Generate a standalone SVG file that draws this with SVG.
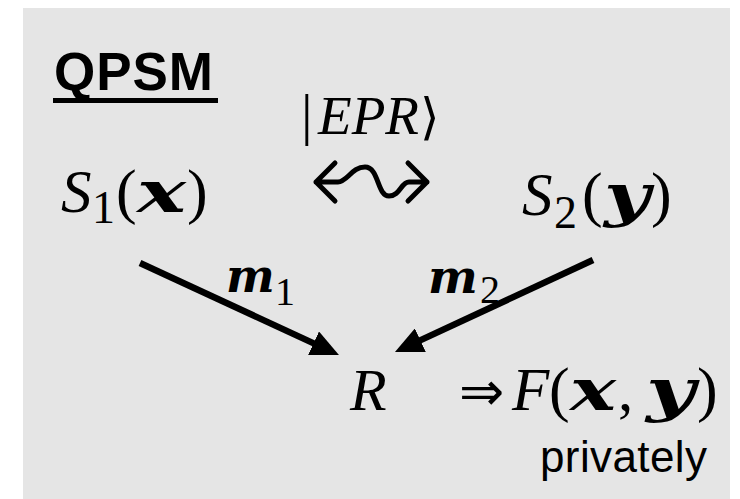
<svg xmlns="http://www.w3.org/2000/svg" width="740" height="499" viewBox="0 0 740 499">
<style>
.m{font-family:"Liberation Serif","DejaVu Serif",serif;font-style:italic;fill:#000}
.b{font-family:"DejaVu Serif",serif;font-weight:bold;font-style:italic}
.u{font-style:normal}
.t{font-family:"Liberation Sans",Arial,sans-serif;fill:#000}
.c{stroke:#000;stroke-width:6.5;fill:none}
.w{stroke:#000;stroke-width:5;fill:none;stroke-linecap:round;stroke-linejoin:round}
</style>
<defs>
<marker id="ah" viewBox="0 0 28 26" refX="8" refY="13" markerWidth="28" markerHeight="26" markerUnits="userSpaceOnUse" orient="auto">
<path d="M0,0 L28,13 L0,26 z" fill="#000"/>
</marker>
</defs>
<rect x="23" y="8" width="707" height="491" fill="#e5e5e5"/>
<g id="title">
<text class="t" x="54" y="90" font-size="53" font-weight="bold" textLength="159">QPSM</text>
<rect x="53" y="98" width="165" height="5" fill="#000"/>
</g>
<g id="epr">
<text class="m" y="134" font-size="55"><tspan class="u" x="301" font-size="58">|</tspan><tspan x="318" textLength="101" lengthAdjust="spacingAndGlyphs">EPR</tspan><tspan class="u" x="420" font-family="DejaVu Serif,serif" font-size="50">⟩</tspan></text>
</g>
<g id="S1">
<text class="m" y="212" font-size="61"><tspan x="61">S</tspan><tspan class="u" x="92" dy="11" font-size="46">1</tspan><tspan class="u" x="116" dy="-11" font-size="62">(</tspan><tspan class="b" x="137" font-size="58" textLength="49" lengthAdjust="spacingAndGlyphs">x</tspan><tspan class="u" x="187" font-size="62">)</tspan></text>
</g>
<g id="S2">
<text class="m" y="215" font-size="61"><tspan x="522">S</tspan><tspan class="u" x="554" dy="13" font-size="46">2</tspan><tspan class="u" x="582" dy="-13" font-size="62">(</tspan><tspan class="b" x="604" font-size="58" textLength="46" lengthAdjust="spacingAndGlyphs">y</tspan><tspan class="u" x="651" font-size="62">)</tspan></text>
</g>
<g id="R">
<text class="m" x="350" y="410" font-size="60">R</text>
</g>
<g id="F">
<text class="m" y="410" font-size="61"><tspan class="u" x="459" font-family="DejaVu Sans,sans-serif" font-size="54">⇒</tspan><tspan x="512">F</tspan><tspan class="u" x="549" font-size="62">(</tspan><tspan class="b" x="570" font-size="58" textLength="46" lengthAdjust="spacingAndGlyphs">x</tspan><tspan class="u" x="618" font-size="61">,</tspan><tspan class="b" x="646" font-size="58" textLength="49" lengthAdjust="spacingAndGlyphs">y</tspan><tspan class="u" x="697" font-size="62">)</tspan></text>
<text class="t" x="540" y="472" font-size="44" textLength="167">privately</text>
</g>
<g id="connectors">
<path class="w" d="M335,163 L316,182 L335,201 M316,182 L338,182 C347,182 352,167 365,167 C379,167 377,196 389,196 C400,196 401,182 409,182 L427,182 M408,163 L427,182 L408,201"/>
<line class="c" x1="140" y1="263" x2="320.8" y2="346.6" marker-end="url(#ah)"/>
<line class="c" x1="593" y1="260" x2="413.1" y2="343.6" marker-end="url(#ah)"/>
</g>
<g id="labels">
<text class="m" y="292" font-size="50"><tspan class="b" x="226" font-size="46">m</tspan><tspan class="u" x="275" dy="13" font-size="40">1</tspan></text>
<text class="m" y="293" font-size="50"><tspan class="b" x="428" font-size="47">m</tspan><tspan class="u" x="480" dy="10" font-size="40">2</tspan></text>
</g>
</svg>
